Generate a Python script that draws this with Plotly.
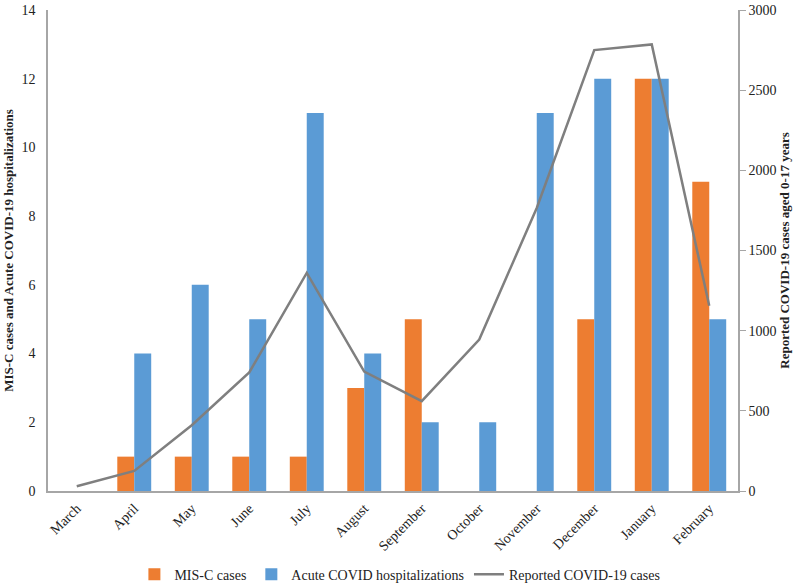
import plotly.graph_objects as go

months = ["March", "April", "May", "June", "July", "August", "September",
          "October", "November", "December", "January", "February"]
misc_cases = [0, 1, 1, 1, 1, 3, 5, 0, 0, 5, 12, 9]
acute_hosp = [0, 4, 6, 5, 11, 4, 2, 2, 11, 12, 12, 5]
reported_cases = [30, 125, 410, 740, 1360, 745, 560, 945, 1765, 2750, 2785, 1155]

FONT = "Liberation Serif, Times New Roman, serif"
AX = "#a6a6a6"

fig = go.Figure()
fig.add_trace(go.Bar(x=months, y=misc_cases, name="MIS-C cases",
                     marker=dict(color="#ED7D31", line=dict(width=0))))
fig.add_trace(go.Bar(x=months, y=acute_hosp, name="Acute COVID hospitalizations",
                     marker=dict(color="#5B9BD5", line=dict(width=0))))
fig.add_trace(go.Scatter(x=months, y=reported_cases, name="Reported COVID-19 cases",
                         mode="lines", yaxis="y2",
                         line=dict(color="#7F7F7F", width=2.5)))

fig.update_layout(
    width=800, height=584,
    margin=dict(l=48, r=62, t=10, b=93),
    paper_bgcolor="white", plot_bgcolor="white",
    font=dict(family=FONT, size=14, color="#222222"),
    barmode="group", bargap=0.41, bargroupgap=0,
    showlegend=True,
    legend=dict(orientation="h", x=0.51, xanchor="center",
                yref="container", y=0.016, yanchor="middle",
                font=dict(size=14, family=FONT), itemwidth=30, traceorder="normal"),
    xaxis=dict(type="category", tickangle=-45, showline=True, linecolor=AX, linewidth=1.5,
               ticks="outside", ticklen=2, tickcolor="rgba(0,0,0,0)", showgrid=False,
               automargin=False, tickfont=dict(size=14, family=FONT)),
    yaxis=dict(range=[0, 14], dtick=2, showline=True, linecolor=AX, linewidth=1.5,
               showgrid=False, zeroline=False, ticks="outside", ticklen=8,
               tickcolor="rgba(0,0,0,0)", automargin=False,
               tickfont=dict(size=14, family=FONT),
               title=dict(text="<b>MIS-C cases and Acute COVID-19 hospitalizations</b>",
                          font=dict(size=13, family=FONT), standoff=5)),
    yaxis2=dict(range=[0, 3000], dtick=500, overlaying="y", side="right",
                showline=True, linecolor=AX, linewidth=1.5, showgrid=False, zeroline=False,
                ticks="outside", ticklen=6, tickcolor=AX, automargin=False,
                tickfont=dict(size=14, family=FONT),
                title=dict(text="<b>Reported COVID-19 cases aged 0-17 years</b>",
                           font=dict(size=13, family=FONT), standoff=4)),
)

fig.write_html("out.html", config={"displayModeBar": False},
               post_script="document.body.style.margin='0';")
